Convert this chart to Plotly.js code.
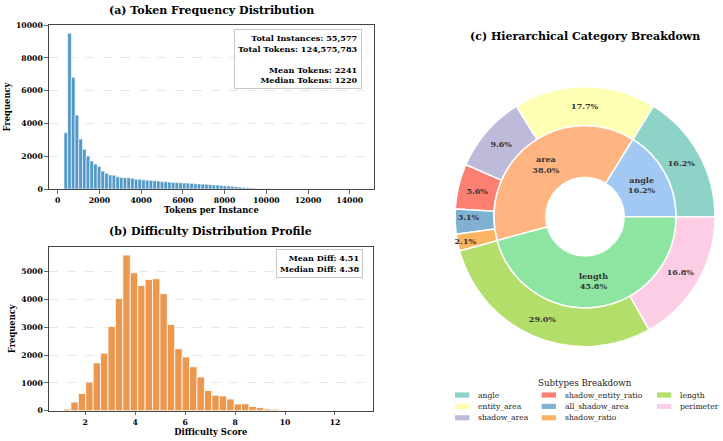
<!DOCTYPE html>
<html>
<head>
<meta charset="utf-8">
<script src="https://cdn.plot.ly/plotly-3.0.1.min.js"></script>
<style>
  html, body { margin: 0; padding: 0; background: #ffffff; }
  #chart { width: 723px; height: 441px; }
</style>
</head>
<body>
<div id="chart"></div>
<script>
// ---- (a) tokens per instance: equal-width bins starting at tokenBinStart ----
const tokenBinStart = 300;
const tokenBinWidth = 177.5;
const tokenCounts = [
  3430, 9500, 6810, 4510, 3050, 2420, 2010, 1710, 1520, 1380,
  1100, 960, 860, 840, 740, 700, 690, 680, 650, 600,
  590, 560, 540, 520, 500, 490, 450, 440, 420, 400,
  390, 380, 370, 360, 340, 320, 310, 300, 290, 270,
  250, 240, 220, 200, 190, 170, 140, 115, 95, 75,
  55, 40, 30, 22, 16, 12, 9, 7, 5, 4,
  3, 3, 2, 2, 2, 1, 1, 1, 1, 1,
  0, 1, 0, 1, 0, 0, 1, 0, 0, 1
];
const tokenTicks = [0, 2000, 4000, 6000, 8000, 10000, 12000, 14000];
const tokenStats = ['Total Instances: 55,577', 'Total Tokens: 124,575,783', '\u00a0', 'Mean Tokens: 2241', 'Median Tokens: 1220'];

// ---- (b) difficulty score histogram ----
const diffBinStart = 1.13;
const diffBinWidth = 0.297;
const diffCounts = [
  60, 310, 620, 1030, 1720, 2070, 3030, 4040, 5600, 4960,
  4500, 4720, 4750, 4210, 3100, 2230, 1930, 1580, 1210, 730,
  560, 530, 420, 240, 250, 150, 110, 60, 50, 20,
  10, 5, 3, 2, 1, 1, 0, 1, 0, 1
];
const diffTicks = [2, 4, 6, 8, 10, 12];
const diffStats = ['Mean Diff: 4.51', 'Median Diff: 4.38'];

// ---- (c) category hierarchy (percent of instances) ----
const innerLabels = ['angle', 'area', 'length'];
const innerValues = [16.2, 38.0, 45.8];
const innerColors = ['#a1c9f4', '#ffb482', '#8de5a1'];
const outerLabels = ['angle', 'entity_area', 'shadow_area', 'shadow_entity_ratio', 'all_shadow_area', 'shadow_ratio', 'length', 'perimeter'];
const outerValues = [16.2, 17.7, 9.6, 5.6, 3.1, 2.1, 29.0, 16.8];
const outerColors = ['#8dd3c7', '#ffffb3', '#bebada', '#fb8072', '#80b1d3', '#fdb462', '#b3de69', '#fccde5'];

// ---- page geometry (pixels -> paper fractions) ----
const W = 723, H = 441;
const fx = p => p / W;
const fy = p => 1 - p / H;
const SERIF = 'DejaVu Serif';

const panelA = { left: 49, right: 373.7, top: 25, bottom: 189 };
const panelB = { left: 49, right: 372.7, top: 246.7, bottom: 410.7 };
const pie = { cx: 585, cy: 216.7, rOuter: 130, rMid: 91 };
function ringDomain(r) {
  return { x: [fx(pie.cx - r), fx(pie.cx + r)], y: [fy(pie.cy + r), fy(pie.cy - r)] };
}
// Plotly lays the first counterclockwise slice on the clockwise side of `rotation`;
// shift it so the first wedge begins at 3 o'clock and runs counterclockwise.
function startAtThreeOClock(values) {
  const total = values.reduce((s, v) => s + v, 0);
  return 90 - 360 * values[0] / total;
}

const tickFont = { family: SERIF, size: 7.7, weight: 'bold', color: '#000' };
const axisTitleFont = { family: SERIF, size: 8.4, weight: 'bold', color: '#000' };
const baseAxis = {
  showline: true, mirror: true, linecolor: '#444', linewidth: 1.2,
  ticks: 'outside', ticklen: 3.5, tickwidth: 0.8, tickcolor: '#444',
  tickfont: tickFont, zeroline: false, showgrid: false, tickformat: 'd', fixedrange: true
};
const gridY = { showgrid: true, gridcolor: '#d6d6d6', griddash: 'dash', gridwidth: 0.6 };

const traces = [
  {
    type: 'bar', xaxis: 'x', yaxis: 'y',
    x0: tokenBinStart + tokenBinWidth / 2, dx: tokenBinWidth, y: tokenCounts,
    width: tokenBinWidth,
    marker: { color: '#5499C7', line: { color: '#ffffff', width: 0.6 } },
    hoverinfo: 'skip'
  },
  {
    type: 'bar', xaxis: 'x2', yaxis: 'y2',
    x0: diffBinStart + diffBinWidth / 2, dx: diffBinWidth, y: diffCounts,
    width: diffBinWidth,
    marker: { color: '#EB984E', line: { color: '#ffffff', width: 0.8 } },
    hoverinfo: 'skip'
  },
  {
    type: 'pie', labels: outerLabels, values: outerValues, sort: false,
    direction: 'counterclockwise', rotation: startAtThreeOClock(outerValues), hole: pie.rMid / pie.rOuter,
    domain: ringDomain(pie.rOuter),
    marker: { colors: outerColors, line: { color: '#ffffff', width: 1.5 } },
    texttemplate: '%{value:.1f}%', textposition: 'inside', insidetextorientation: 'horizontal',
    textfont: { family: SERIF, size: 8, weight: 'bold', color: '#333333' },
    showlegend: false, hoverinfo: 'skip'
  },
  {
    type: 'pie', labels: innerLabels, values: innerValues, sort: false,
    direction: 'counterclockwise', rotation: startAtThreeOClock(innerValues), hole: 0.43,
    domain: ringDomain(pie.rMid),
    marker: { colors: innerColors, line: { color: '#ffffff', width: 1.5 } },
    texttemplate: '%{label}<br>%{value:.1f}%', textposition: 'inside', insidetextorientation: 'horizontal',
    textfont: { family: SERIF, size: 8, weight: 'bold', color: '#333333' },
    showlegend: false, hoverinfo: 'skip'
  }
];

// panel titles
const annotations = [
  { text: '(a) Token Frequency Distribution', x: fx((panelA.left + panelA.right) / 2), y: fy(11) },
  { text: '(b) Difficulty Distribution Profile', x: fx((panelB.left + panelB.right) / 2), y: fy(232) },
  { text: '(c) Hierarchical Category Breakdown', x: fx(pie.cx), y: fy(36.7) }
].map(a => Object.assign({
  xref: 'paper', yref: 'paper', xanchor: 'center', yanchor: 'middle', showarrow: false,
  font: { family: SERIF, size: 11, weight: 'bold', color: '#000' }
}, a));

// statistics boxes
const statBox = {
  xref: 'paper', yref: 'paper', xanchor: 'right', yanchor: 'top', showarrow: false, align: 'right',
  font: { family: SERIF, size: 8.1, weight: 'bold', color: '#000' },
  bgcolor: 'rgba(255,255,255,0.9)', bordercolor: '#c8c8c8', borderwidth: 1, borderpad: 3
};
annotations.push(Object.assign({}, statBox, { text: tokenStats.join('<br>'), x: fx(362), y: fy(29) }));
annotations.push(Object.assign({}, statBox, { text: diffStats.join('<br>'), x: fx(362.7), y: fy(249.3) }));

// legend for the outer ring: three columns, filled top to bottom
const shapes = [];
const legendCols = [455, 541.7, 657];
const legendRows = [395, 406.4, 417.8];
annotations.push({
  text: 'Subtypes Breakdown', xref: 'paper', yref: 'paper', x: fx(pie.cx), y: fy(382.7),
  xanchor: 'center', yanchor: 'middle', showarrow: false,
  font: { family: SERIF, size: 8.7, color: '#222' }
});
outerLabels.forEach((lab, i) => {
  const cx = legendCols[Math.floor(i / 3)];
  const cy = legendRows[i % 3];
  shapes.push({
    type: 'rect', xref: 'paper', yref: 'paper',
    x0: fx(cx), x1: fx(cx + 14.3), y0: fy(cy + 2.6), y1: fy(cy - 2.6),
    fillcolor: outerColors[i], line: { width: 0 }
  });
  annotations.push({
    text: lab, xref: 'paper', yref: 'paper', x: fx(cx + 21), y: fy(cy),
    xanchor: 'left', yanchor: 'middle', showarrow: false,
    font: { family: SERIF, size: 7.6, color: '#222' }
  });
});

const layout = {
  width: W, height: H,
  margin: { l: 0, r: 0, t: 0, b: 0 },
  paper_bgcolor: '#ffffff', plot_bgcolor: '#ffffff',
  font: { family: SERIF, color: '#000' },
  showlegend: false,
  xaxis: Object.assign({}, baseAxis, {
    domain: [fx(panelA.left), fx(panelA.right)], anchor: 'y',
    range: [-417, 15150], tickvals: tokenTicks,
    title: { text: 'Tokens per Instance', font: axisTitleFont, standoff: 3 }
  }),
  yaxis: Object.assign({}, baseAxis, gridY, {
    domain: [fy(panelA.bottom), fy(panelA.top)], anchor: 'x',
    range: [0, 10005], dtick: 2000, tick0: 0,
    title: { text: 'Frequency', font: axisTitleFont, standoff: 4 }
  }),
  xaxis2: Object.assign({}, baseAxis, {
    domain: [fx(panelB.left), fx(panelB.right)], anchor: 'y2',
    range: [0.55, 13.51], tickvals: diffTicks,
    title: { text: 'Difficulty Score', font: axisTitleFont, standoff: 3 }
  }),
  yaxis2: Object.assign({}, baseAxis, gridY, {
    domain: [fy(panelB.bottom), fy(panelB.top)], anchor: 'x2',
    range: [0, 5900], dtick: 1000, tick0: 0,
    title: { text: 'Frequency', font: axisTitleFont, standoff: 4 }
  }),
  uniformtext: { mode: 'show', minsize: 8 },
  annotations: annotations,
  shapes: shapes
};

Plotly.newPlot('chart', traces, layout, { staticPlot: true, displayModeBar: false });
</script>
</body>
</html>
